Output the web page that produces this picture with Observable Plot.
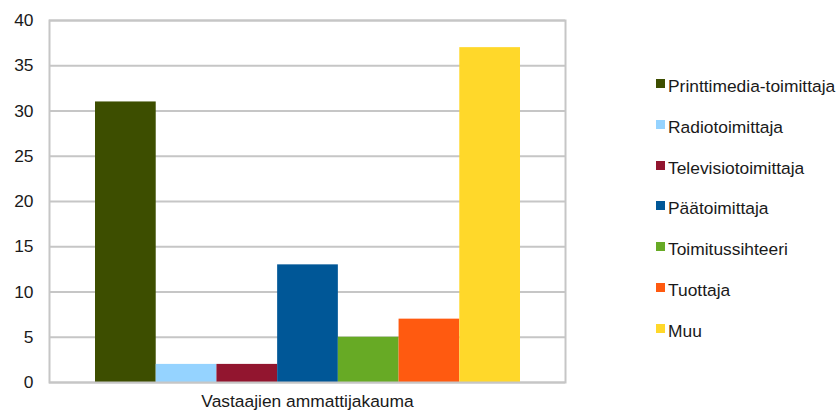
<!DOCTYPE html>
<html>
<head>
<meta charset="utf-8">
<script src="https://cdn.jsdelivr.net/npm/d3@7"></script>
<script src="https://cdn.jsdelivr.net/npm/@observablehq/plot@0.6"></script>
<style>
  html, body { margin: 0; padding: 0; background: #fff; }
  #wrap { position: relative; width: 838px; height: 412px; font-family: "Liberation Sans", Arial, sans-serif; }
  #legend { position: absolute; left: 656px; top: 76px; }
  .item { position: absolute; left: 0; white-space: nowrap; font-size: 17.4px; color: #1a1a1a; }
  .sw { display: inline-block; width: 9px; height: 9px; margin-right: 3px; vertical-align: 0px; position: relative; top: -4px; }
</style>
</head>
<body>
<div id="wrap"><div id="chart"></div><div id="legend"></div></div>
<script>
const series = ["Printtimedia-toimittaja", "Radiotoimittaja", "Televisiotoimittaja", "Päätoimittaja", "Toimitussihteeri", "Tuottaja", "Muu"];
const values = [31, 2, 2, 13, 5, 7, 37];
const colors = ["#3d4e00", "#95d3ff", "#92152f", "#005797", "#67aa25", "#ff5a10", "#ffd82a"];
const yTicks = [0, 5, 10, 15, 20, 25, 30, 35, 40];
const category = "Vastaajien ammattijakauma";

const data = series.map((s, i) => ({series: s, value: values[i]}));

const chart = Plot.plot({
  width: 838,
  height: 412,
  marginLeft: 49,
  marginRight: 273,
  marginTop: 20,
  marginBottom: 30,
  style: {fontFamily: "Liberation Sans, Arial, sans-serif", fontSize: "17px", color: "#1a1a1a"},
  x: {domain: series, padding: 0, round: false, insetLeft: 46, insetRight: 45, axis: null},
  y: {domain: [0, 40], ticks: yTicks},
  color: {domain: series, range: colors},
  marks: [
    Plot.gridY(yTicks, {stroke: "#c6c6c6", strokeOpacity: 1, strokeWidth: 2}),
    Plot.barY(data, {x: "series", y: "value", fill: "series"}),
    Plot.frame({stroke: "#c6c6c6", strokeWidth: 2}),
    Plot.axisY(yTicks, {tickSize: 0, tickPadding: 16, label: null, fontSize: 17.4}),
    Plot.text([category], {frameAnchor: "bottom", dy: 24, text: d => d, fontSize: 17.4, fill: "#1a1a1a"})
  ]
});
document.getElementById("chart").appendChild(chart);

const legend = document.getElementById("legend");
series.forEach((s, i) => {
  const div = document.createElement("div");
  div.className = "item";
  div.style.top = (i * 40.8) + "px";
  const sw = document.createElement("span");
  sw.className = "sw";
  sw.style.background = colors[i];
  div.appendChild(sw);
  div.appendChild(document.createTextNode(s));
  legend.appendChild(div);
});
</script>
</body>
</html>
